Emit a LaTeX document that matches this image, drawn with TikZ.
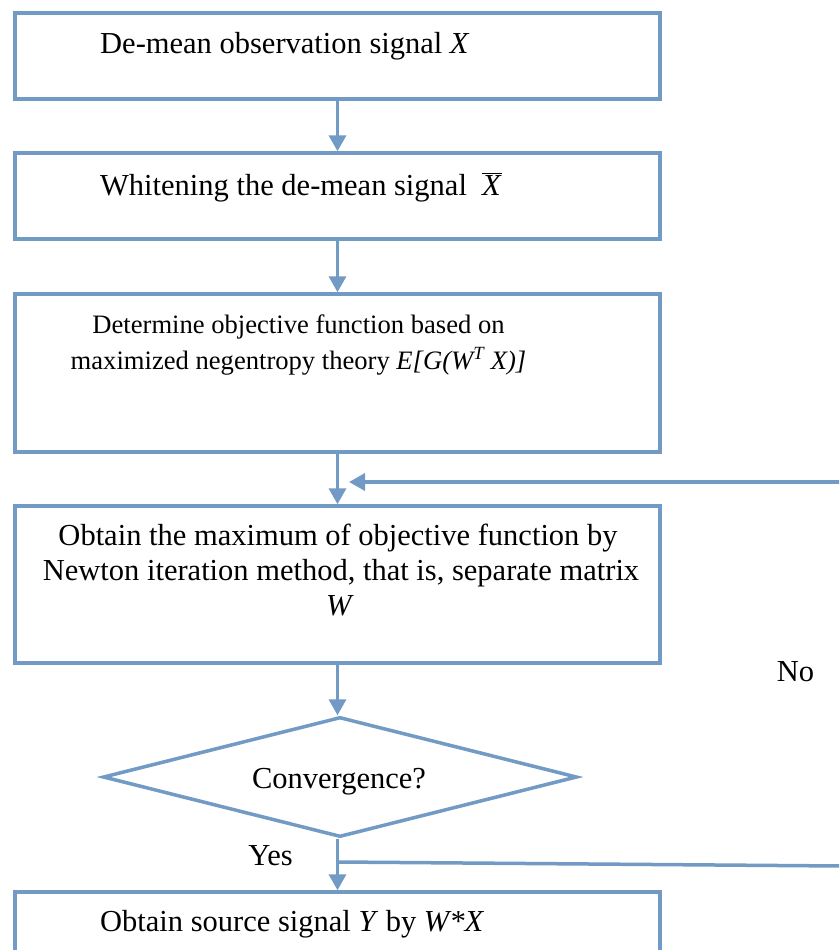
\documentclass[tikz,border=0pt]{standalone}
\usepackage{fontspec}
\setmainfont{Liberation Serif}
\usetikzlibrary{arrows.meta,shapes.geometric}
\definecolor{lc}{RGB}{113,154,197}
\begin{document}
\begin{tikzpicture}[x=1pt,y=-1pt,
  box/.style={draw=lc, line width=3.5pt, minimum width=645pt, inner sep=0pt, rectangle},
  conn/.style={draw=lc, line width=3.5pt, -{Triangle[width=17pt,length=16pt]}},
  plain/.style={draw=lc, line width=3.5pt},
  txt/.style={font=\fontsize{30.5}{35}\selectfont, align=center, inner sep=0pt},
  smalltxt/.style={font=\fontsize{26.6}{35}\selectfont, align=center, inner sep=0pt}]
\useasboundingbox (0,0) rectangle (839,950);
\clip (0,0) rectangle (839,950);
\fill[white] (0,0) rectangle (839,950);
% boxes
\node[box, minimum height=86pt] (b1) at (337.5,56) {};
\node[box, minimum height=86pt] (b2) at (337.5,196) {};
\node[box, minimum height=158pt] (b3) at (337.5,373) {};
\node[box, minimum height=157pt] (b4) at (337.5,584.5) {};
\node[draw=lc, line width=3.5pt, diamond, minimum width=474pt, minimum height=120pt, inner sep=0pt, aspect=3.95] (d) at (340,777) {};
\node[box, minimum height=120pt] (b5) at (337.5,952) {};
% texts
\node[txt, anchor=base west] (t1) at (100,53) {De-mean observation signal \textit{X}};
\node[txt, anchor=base west] (t2) at (100,195) {Whitening the de-mean signal \ $\overline{\mbox{\textit{X}}}$};
\node[smalltxt, anchor=base] (t3a) at (298.5,333) {Determine objective function based on};
\node[smalltxt, anchor=base] (t3b) at (298.5,369) {maximized negentropy theory \textit{E[G(W\textsuperscript{T} X)]}};
\node[txt, anchor=base] (t4a) at (338,545) {Obtain the maximum of objective function by};
\node[txt, anchor=base] (t4b) at (341,580) {Newton iteration method, that is, separate matrix};
\node[txt, anchor=base] (t4c) at (340,615) {\textit{W}};
\node[txt, anchor=base] (td) at (339,788) {Convergence?};
\node[txt, anchor=base] (ty) at (270.5,865) {Yes};
\node[txt, anchor=base] (tn) at (795.5,681) {No};
\node[txt, anchor=base west] (t5) at (100,931) {Obtain source signal \textit{Y} by \textit{W*X}};
% connectors
\draw[conn] (b1.south) -- (b2.north);
\draw[conn] (b2.south) -- (b3.north);
\draw[conn] (b3.south) -- (b4.north);
\draw[conn] (b4.south) -- (d.north -| b4.south);
\draw[conn] (d.south -| b5.north) -- (b5.north);
\coordinate (yb) at (338,862);
\coordinate (yr) at (842,866);
\draw[plain] (yb) -- (yr);
\coordinate (fr) at (842,482);
\coordinate (ft) at (349,482);
\draw[conn] (fr) -- (ft);
\end{tikzpicture}
\end{document}
